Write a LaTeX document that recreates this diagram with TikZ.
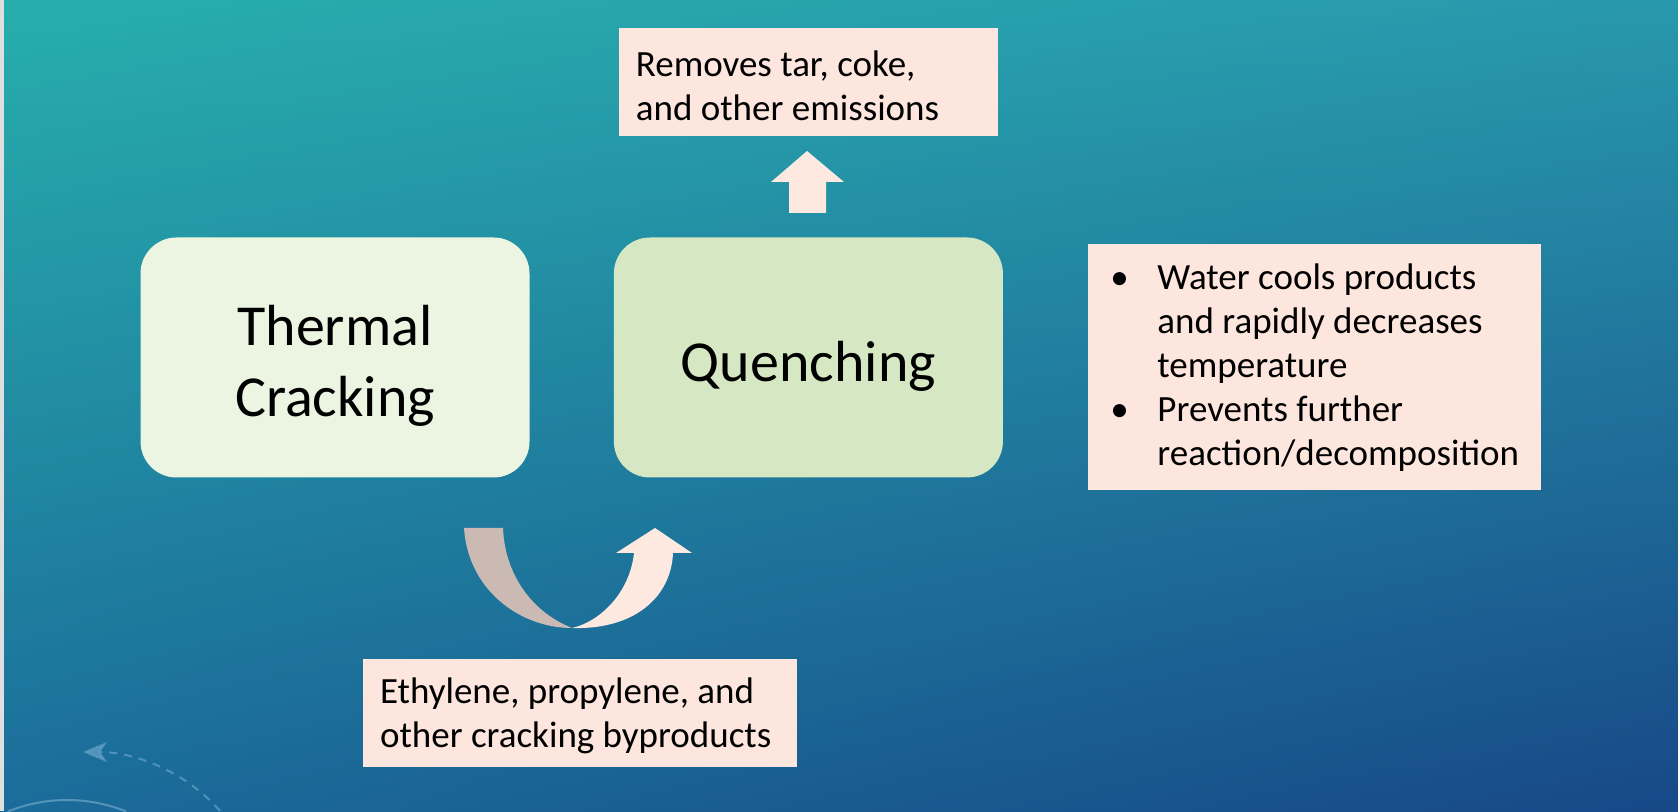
\documentclass[tikz,border=0pt]{standalone}
\usepackage{fontspec}
\setmainfont{Carlito}
\usepackage{tikz}
\usetikzlibrary{positioning}
\usetikzlibrary{arrows.meta}
\usetikzlibrary{shadings}
\definecolor{bgtl}{HTML}{27AEAC}
\definecolor{bgtr}{HTML}{2898AD}
\definecolor{bgbl}{HTML}{1B6C9A}
\definecolor{bgbr}{HTML}{174887}
\definecolor{lightgreen}{HTML}{EBF5E1}
\definecolor{midgreen}{HTML}{D5E8C3}
\definecolor{notepink}{HTML}{FCE6DE}
\definecolor{arrowtaupe}{HTML}{CBBAB3}
\definecolor{arrowpink}{HTML}{FDE9E0}
\definecolor{decoblue}{HTML}{5C9CC2}
\tikzset{
  >=latex,
  block/.style={rectangle, fill=#1, align=center, rounded corners=36pt,
    minimum width=389pt, minimum height=240pt,
    font=\fontsize{58}{71}\selectfont},
  note/.style={rectangle, fill=notepink, inner xsep=17pt, align=flush left,
    font=\fontsize{37}{44}\selectfont}
}

\begin{document}
\begin{tikzpicture}[x=1pt, y=1pt, node distance=84pt]
    % Background
    \useasboundingbox (0,0) rectangle (1678,811);
    \clip (0,0) rectangle (1678,811);
    \shade [upper left=bgtl, upper right=bgtr, lower left=bgbl, lower right=bgbr]
      (0,0) rectangle (1678,811);
    \fill [gray!25] (0,0) rectangle (4,811);
    \draw [decoblue!80!white, opacity=0.6, line width=2pt]
      ([shift={(67,-147)}]68:158pt) arc (68:112:158pt);
    \coordinate (dashstart) at (220,0);
    \coordinate (dashend) at (83,59);
    \draw [decoblue, opacity=0.8, line width=2pt, dash pattern=on 8pt off 7pt,
      -{Stealth[length=24pt, width=20pt, inset=7pt]}]
      (dashstart) .. controls (190,35) and (140,59) .. (dashend);

    % Place nodes
    \node [block=lightgreen, text height=128pt] (thermal) at (335,453.5)
      {Thermal\\Cracking};
    \node [block=midgreen, text height=57pt, right=of thermal] (quench) {Quenching};
    \node [note, text width=345pt, text height=33pt, minimum height=108pt,
      above=101pt of quench] (emissions) {Removes tar, coke,\\and other emissions};
    \node [note, inner xsep=18pt, minimum width=453pt, minimum height=246pt,
      right=85pt of quench, yshift=-10pt] (effects)
      {\makebox[47pt][l]{\textbullet}Water cools products\\
       \hspace*{47pt}and rapidly decreases\\
       \hspace*{47pt}temperature\\
       \makebox[47pt][l]{\textbullet}Prevents further\\
       \hspace*{47pt}reaction/decomposition};
    \node [note, text width=400pt, text height=31pt, minimum height=108pt]
      (products) at (580,98) {Ethylene, propylene, and\\other cracking byproducts};

    % Block arrows
    \fill [arrowpink] (789,598) -- (826,598) -- (826,629) -- (844,629)
      -- (807,660) -- (771,629) -- (789,629) -- cycle;
    \coordinate (bend) at (572,183);
    \fill [arrowtaupe] (464,283) .. controls (468,221) and (520,183) .. (bend)
      .. controls (532,199) and (505,236) .. (503,283) -- cycle;
    \fill [arrowpink] (bend) .. controls (632,181) and (671,212) .. (673,258)
      -- (692,258) -- (655,283) -- (616,258) -- (634,258)
      .. controls (630,220) and (602,190) .. (bend) -- cycle;
\end{tikzpicture}
\end{document}
